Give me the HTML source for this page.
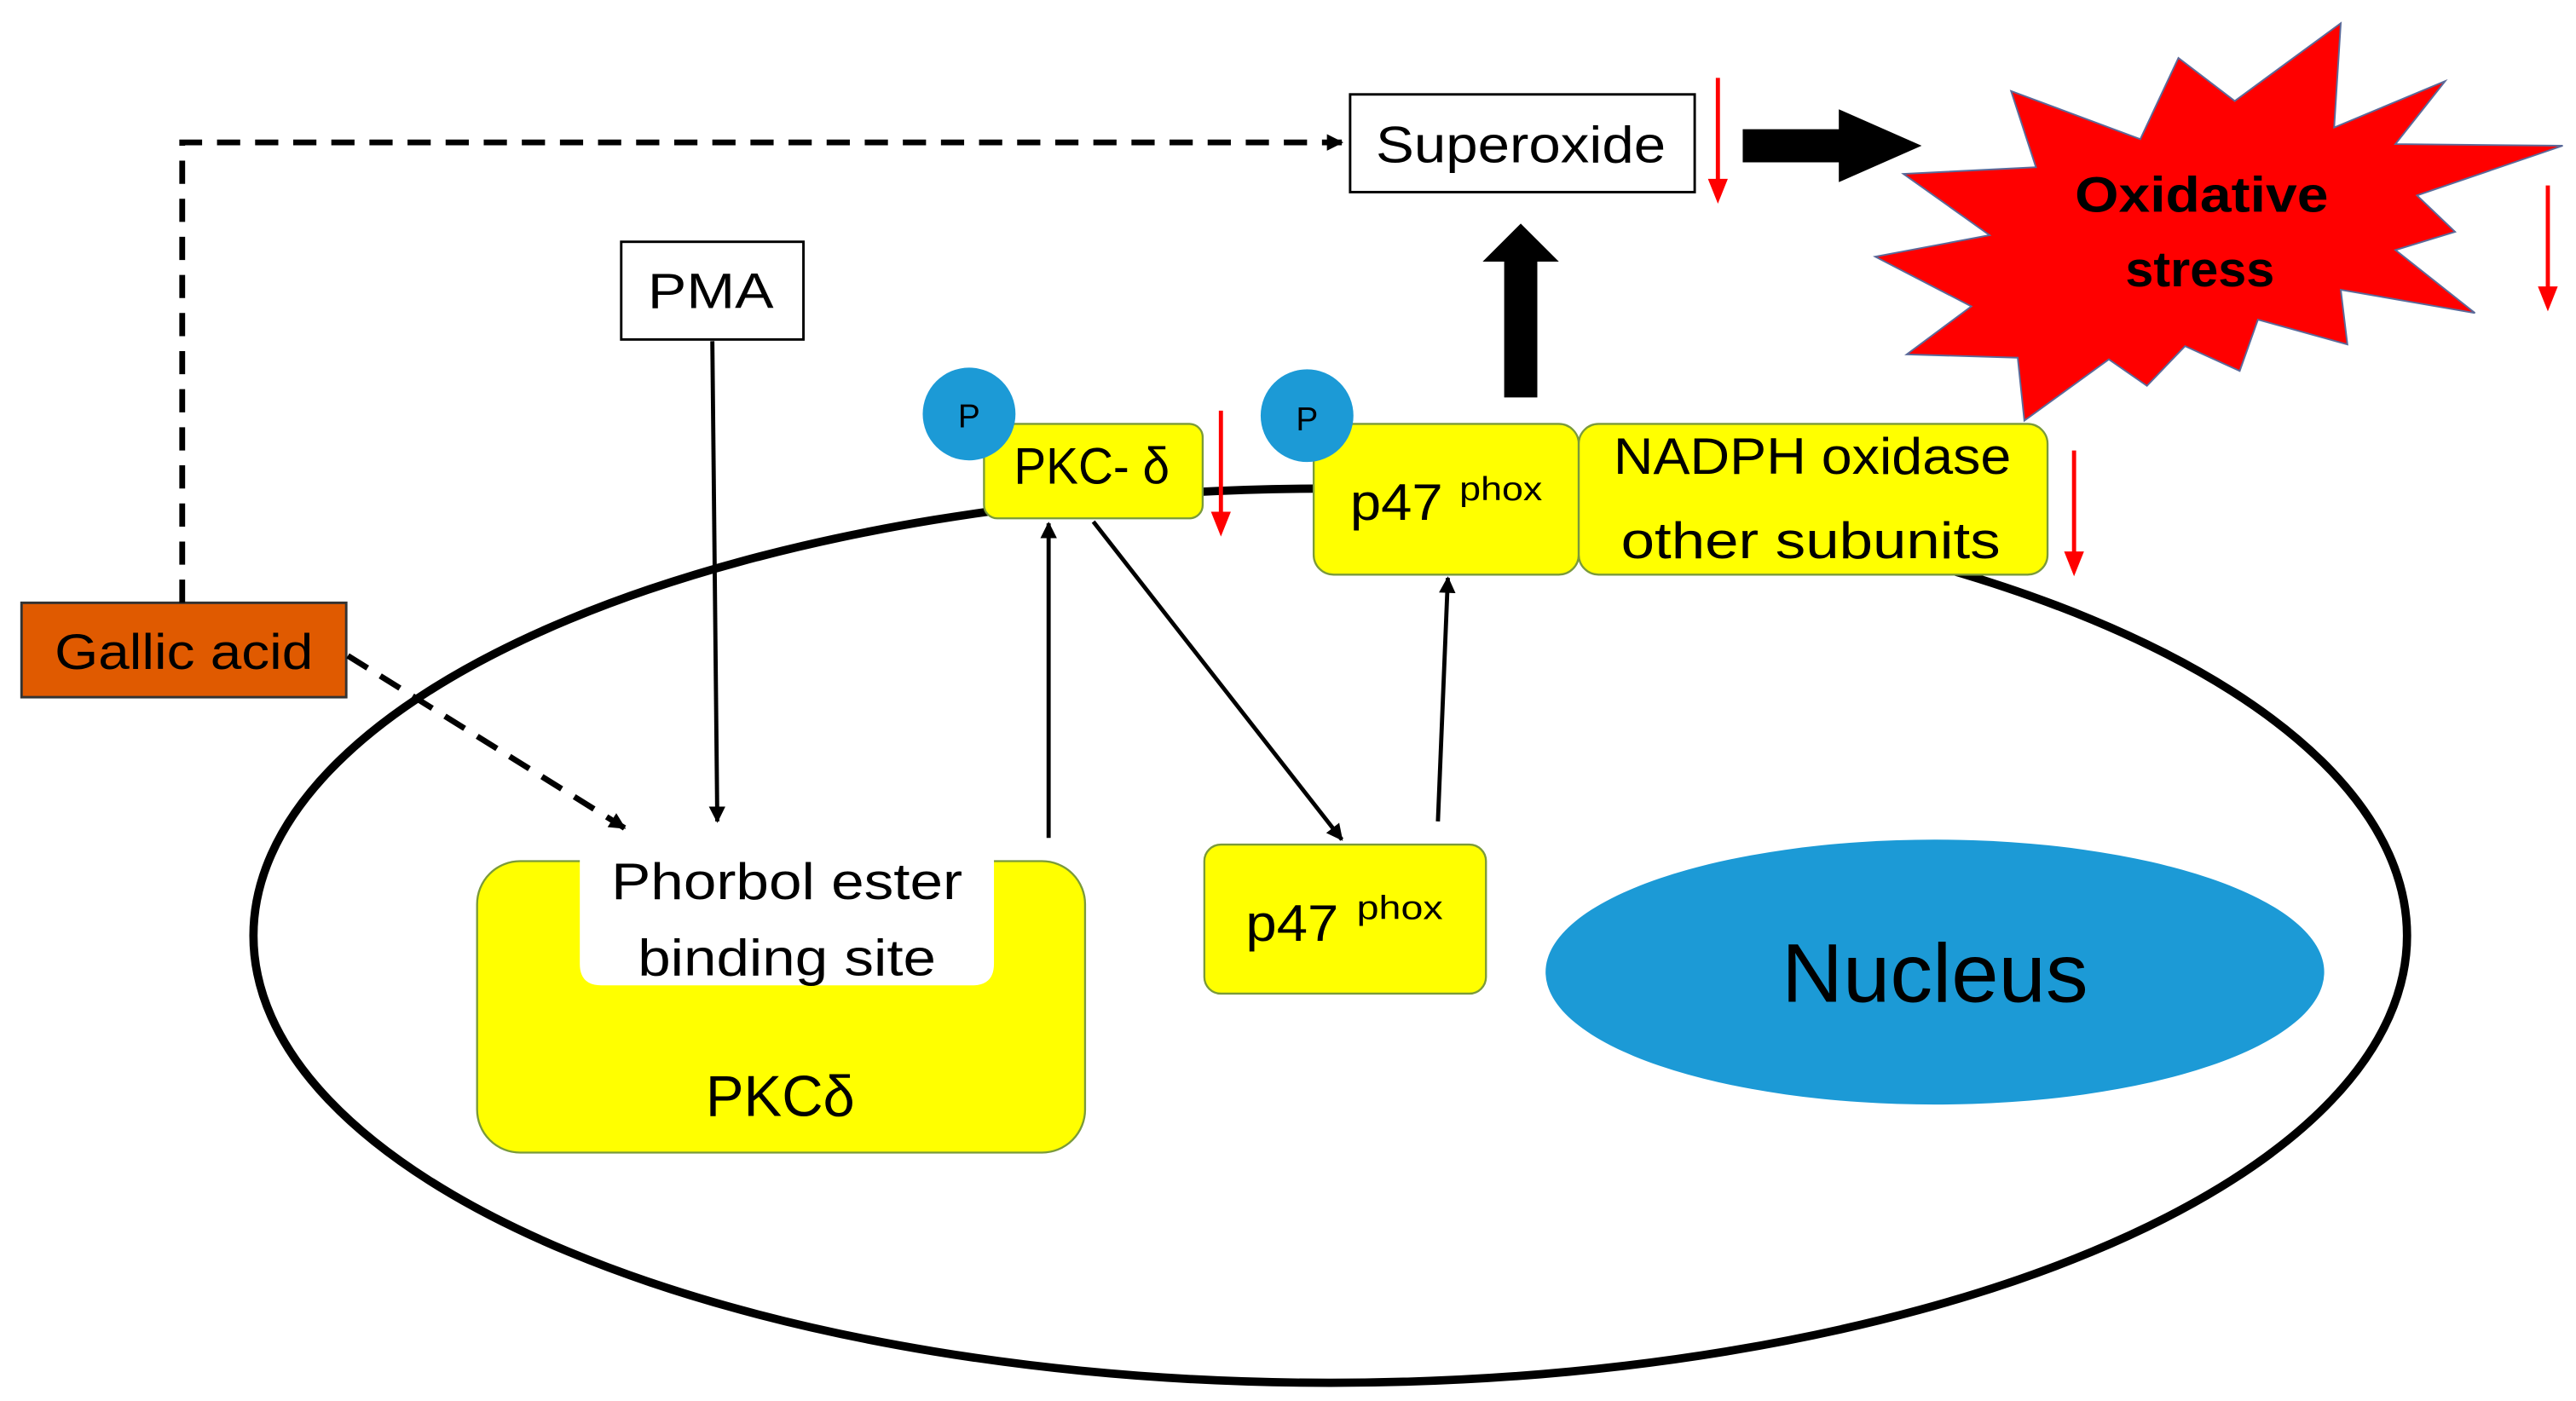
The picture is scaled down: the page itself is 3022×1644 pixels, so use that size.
<!DOCTYPE html>
<html><head><meta charset="utf-8"><style>
html,body{margin:0;padding:0;background:#fff;}
svg{display:block;}
text{font-family:"Liberation Sans",sans-serif;fill:#000;}
</style></head><body>
<svg width="3022" height="1644" viewBox="0 0 1555 846" preserveAspectRatio="none" xmlns="http://www.w3.org/2000/svg">
<defs>
<marker id="ah" markerWidth="10" markerHeight="10" refX="9" refY="5" orient="auto" markerUnits="userSpaceOnUse"><path d="M0,0 L10,5 L0,10 Z" fill="#000"/></marker>
</defs>
<ellipse cx="803" cy="565" rx="650" ry="270" fill="none" stroke="#000" stroke-width="5"/>
<ellipse cx="1168" cy="587" rx="235" ry="80" fill="#1C9AD6"/>
<text x="1168" y="605" font-size="50" text-anchor="middle" textLength="185" lengthAdjust="spacingAndGlyphs">Nucleus</text>
<polygon points="1413,14 1409,77 1476,49 1446,87 1547,88 1459,118 1482,140 1446,151 1494,189 1413,175 1417,208 1363,193 1352,224 1319,209 1296,233 1273,217 1222,254 1218,216 1151,214 1190,185 1132,155 1201,142 1149,105 1229,101 1214,55 1292,84 1315,35 1349,61" fill="#f00" stroke="#5a6a9a" stroke-width="1"/>
<text x="1329" y="128" font-size="30" font-weight="bold" text-anchor="middle" textLength="153" lengthAdjust="spacingAndGlyphs">Oxidative</text>
<text x="1328" y="173" font-size="30" font-weight="bold" text-anchor="middle" textLength="90" lengthAdjust="spacingAndGlyphs">stress</text>
<rect x="815" y="57" width="208" height="59" fill="#fff" stroke="#000" stroke-width="1.5"/>
<text x="918" y="98" font-size="31" text-anchor="middle" textLength="175" lengthAdjust="spacingAndGlyphs">Superoxide</text>
<polygon points="1052,78 1110,78 1110,66 1160,88 1110,110 1110,98 1052,98" fill="#000"/>
<polygon points="908,240 928,240 928,158 941,158 918,135 895,158 908,158" fill="#000"/>
<g stroke="#f00" stroke-width="2.5">
<line x1="1037" y1="47" x2="1037" y2="112"/>
<line x1="1538" y1="112" x2="1538" y2="177"/>
<line x1="737" y1="248" x2="737" y2="313"/>
<line x1="1252" y1="272" x2="1252" y2="337"/>
</g>
<g fill="#f00">
<polygon points="1031,108 1043,108 1037,123"/>
<polygon points="1532,173 1544,173 1538,188"/>
<polygon points="731,309 743,309 737,324"/>
<polygon points="1246,333 1258,333 1252,348"/>
</g>
<rect x="375" y="146" width="110" height="59" fill="#fff" stroke="#000" stroke-width="1.5"/>
<text x="429" y="186" font-size="30" text-anchor="middle" textLength="76" lengthAdjust="spacingAndGlyphs">PMA</text>
<rect x="594" y="256" width="132" height="57" rx="8" fill="#ffff00" stroke="#7a9a3a" stroke-width="1.2"/>
<text x="612" y="292" font-size="31" textLength="94" lengthAdjust="spacingAndGlyphs">PKC- δ</text>
<circle cx="585" cy="250" r="28" fill="#1C9AD6"/>
<text x="585" y="258" font-size="20" text-anchor="middle">P</text>
<rect x="793" y="256" width="160" height="91" rx="12" fill="#ffff00" stroke="#7a9a3a" stroke-width="1.2"/>
<text x="815" y="314" font-size="31" textLength="56" lengthAdjust="spacingAndGlyphs">p47</text>
<text x="881" y="302" font-size="20" textLength="50" lengthAdjust="spacingAndGlyphs">phox</text>
<circle cx="789" cy="251" r="28" fill="#1C9AD6"/>
<text x="789" y="260" font-size="20" text-anchor="middle">P</text>
<rect x="953" y="256" width="283" height="91" rx="12" fill="#ffff00" stroke="#7a9a3a" stroke-width="1.2"/>
<text x="1094" y="286" font-size="31" text-anchor="middle" textLength="240" lengthAdjust="spacingAndGlyphs">NADPH oxidase</text>
<text x="1093" y="337" font-size="31" text-anchor="middle" textLength="229" lengthAdjust="spacingAndGlyphs">other subunits</text>
<rect x="13" y="364" width="196" height="57" fill="#E05A00" stroke="#333" stroke-width="1.5"/>
<text x="111" y="404" font-size="30" text-anchor="middle" textLength="156" lengthAdjust="spacingAndGlyphs">Gallic acid</text>
<polyline points="110,364 110,86 810,86" fill="none" stroke="#000" stroke-width="3.5" stroke-dasharray="14,9" marker-end="url(#ah)"/>
<line x1="210" y1="396" x2="377" y2="500" stroke="#000" stroke-width="3.5" stroke-dasharray="14,9" marker-end="url(#ah)"/>
<rect x="288" y="520" width="367" height="176" rx="26" fill="#ffff00" stroke="#7a9a3a" stroke-width="1.2"/>
<path d="M350,515 L600,515 L600,582 Q600,595 587,595 L363,595 Q350,595 350,582 Z" fill="#fff"/>
<text x="475" y="543" font-size="31" text-anchor="middle" textLength="212" lengthAdjust="spacingAndGlyphs">Phorbol ester</text>
<text x="475" y="589" font-size="31" text-anchor="middle" textLength="180" lengthAdjust="spacingAndGlyphs">binding site</text>
<text x="471" y="674" font-size="35" text-anchor="middle" textLength="90" lengthAdjust="spacingAndGlyphs">PKCδ</text>
<rect x="727" y="510" width="170" height="90" rx="10" fill="#ffff00" stroke="#7a9a3a" stroke-width="1.2"/>
<text x="752" y="568" font-size="31" textLength="56" lengthAdjust="spacingAndGlyphs">p47</text>
<text x="819" y="555" font-size="20" textLength="52" lengthAdjust="spacingAndGlyphs">phox</text>
<line x1="430" y1="206" x2="433" y2="496" stroke="#000" stroke-width="2.5" marker-end="url(#ah)"/>
<line x1="633" y1="506" x2="633" y2="316" stroke="#000" stroke-width="2.5" marker-end="url(#ah)"/>
<line x1="660" y1="315" x2="810" y2="507" stroke="#000" stroke-width="2.5" marker-end="url(#ah)"/>
<line x1="868" y1="496" x2="874" y2="349" stroke="#000" stroke-width="2.5" marker-end="url(#ah)"/>
</svg>
</body></html>
